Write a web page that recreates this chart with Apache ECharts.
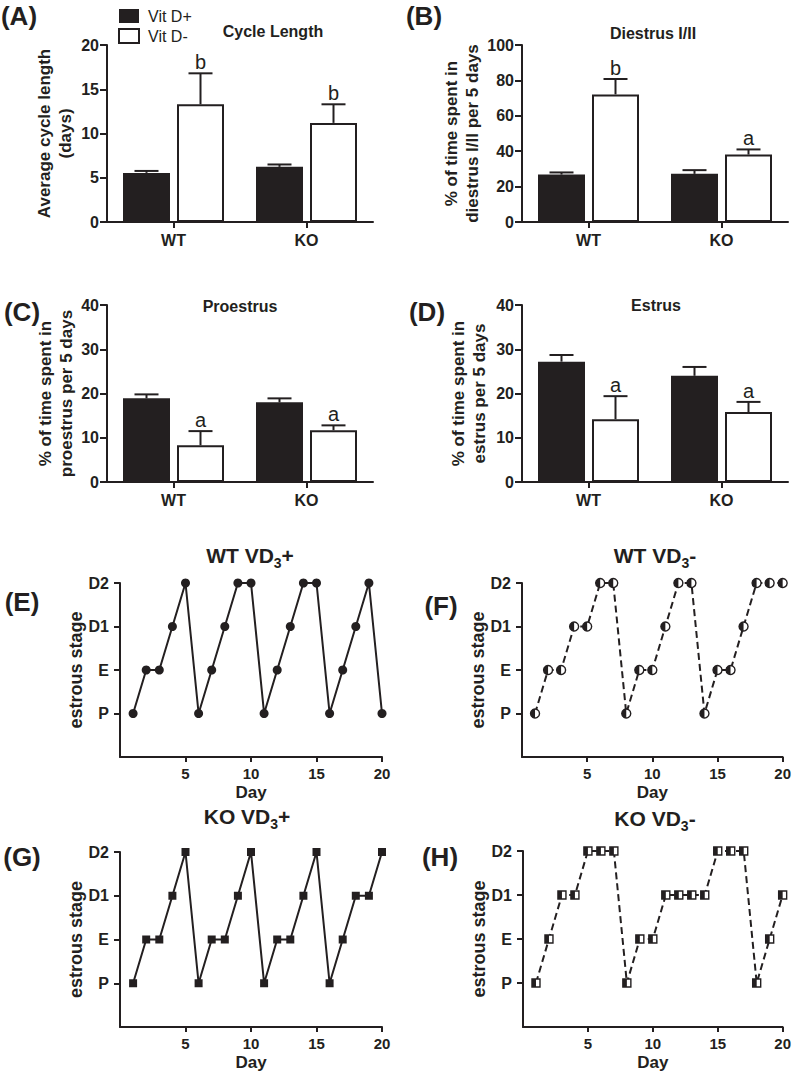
<!DOCTYPE html>
<html>
<head>
<meta charset="utf-8">
<script src="https://cdn.jsdelivr.net/npm/echarts@6/dist/echarts.min.js"></script>
<style>
html,body{margin:0;padding:0;background:#ffffff;}
#chart{width:794px;height:1072px;}
</style>
</head>
<body>
<div id="chart"></div>
<script>
// ---------------- data ----------------
const barGroups = ['WT', 'KO'];
const seriesNames = ['Vit D+', 'Vit D-'];

const cycleVitDPlus = [5.55, 6.23];
const cycleVitDPlusSem = [0.22, 0.27];
const cycleVitDMinus = [13.3, 11.2];
const cycleVitDMinusSem = [3.5, 2.1];
const cycleLetters = ['b', 'b'];

const diestrusVitDPlus = [26.8, 27.2];
const diestrusVitDPlusSem = [1.2, 2.1];
const diestrusVitDMinus = [72.1, 38.1];
const diestrusVitDMinusSem = [8.7, 2.9];
const diestrusLetters = ['b', 'a'];

const proestrusVitDPlus = [18.9, 18.0];
const proestrusVitDPlusSem = [0.9, 0.9];
const proestrusVitDMinus = [8.3, 11.7];
const proestrusVitDMinusSem = [3.2, 1.1];
const proestrusLetters = ['a', 'a'];

const estrusVitDPlus = [27.2, 24.0];
const estrusVitDPlusSem = [1.5, 2.0];
const estrusVitDMinus = [14.2, 15.8];
const estrusVitDMinusSem = [5.2, 2.3];
const estrusLetters = ['a', 'a'];

const days = [1, 2, 3, 4, 5, 6, 7, 8, 9, 10, 11, 12, 13, 14, 15, 16, 17, 18, 19, 20];
const stageLabels = ['', 'P', 'E', 'D1', 'D2'];
const dayTicks = [5, 10, 15, 20];
const stageTicks = [1, 2, 3, 4];
// stage index: 1=P, 2=E, 3=D1, 4=D2
const wtVd3Plus  = [1, 2, 2, 3, 4, 1, 2, 3, 4, 4, 1, 2, 3, 4, 4, 1, 2, 3, 4, 1];
const wtVd3Minus = [1, 2, 2, 3, 3, 4, 4, 1, 2, 2, 3, 4, 4, 1, 2, 2, 3, 4, 4, 4];
const koVd3Plus  = [1, 2, 2, 3, 4, 1, 2, 2, 3, 4, 1, 2, 2, 3, 4, 1, 2, 3, 3, 4];
const koVd3Minus = [1, 2, 3, 3, 4, 4, 4, 1, 2, 2, 3, 3, 3, 3, 4, 4, 4, 1, 2, 3];

// ---------------- styling ----------------
const INK = '#231f20';
const FONT = '"Liberation Sans", Arial, Helvetica, sans-serif';
const BAR_W = 47;
const BAR_GAP_PX = 7;
const CAP = 12;

const chart = echarts.init(document.getElementById('chart'), null, {renderer: 'svg', width: 794, height: 1072});

const grids = [], xAxes = [], yAxes = [], series = [], graphics = [];

function errorRender(offset, letters) {
  return function (params, api) {
    const i = api.value(0), m = api.value(1), s = api.value(2);
    const base = api.coord([i, m]);
    const top = api.coord([i, m + s]);
    const x = base[0] + offset;
    const children = [
      {type: 'line', shape: {x1: x, y1: base[1], x2: x, y2: top[1]}, style: {stroke: INK, lineWidth: 2}},
      {type: 'line', shape: {x1: x - CAP, y1: top[1], x2: x + CAP, y2: top[1]}, style: {stroke: INK, lineWidth: 2}}
    ];
    const letter = letters ? letters[params.dataIndex] : null;
    if (letter) {
      children.push({type: 'text', x: x, y: top[1] - 1,
        style: {text: letter, font: '20px ' + FONT, fill: INK, align: 'center', verticalAlign: 'bottom'}});
    }
    return {type: 'group', children: children};
  };
}

const axisLineStyle = {show: true, lineStyle: {color: INK, width: 2}};
const axisTickStyle = {show: true, length: 6, lineStyle: {color: INK, width: 2}};

const barPanels = [
  {plus: cycleVitDPlus, plusSem: cycleVitDPlusSem, minus: cycleVitDMinus, minusSem: cycleVitDMinusSem, letters: cycleLetters,
   max: 20, interval: 5, name: 'Average cycle length\n(days)', nameGap: 31,
   grid: {left: 107, top: 45, width: 266, height: 177}},
  {plus: diestrusVitDPlus, plusSem: diestrusVitDPlusSem, minus: diestrusVitDMinus, minusSem: diestrusVitDMinusSem, letters: diestrusLetters,
   max: 100, interval: 20, name: '% of time spent in\ndiestrus I/II per 5 days', nameGap: 36,
   grid: {left: 522, top: 45, width: 266, height: 177}},
  {plus: proestrusVitDPlus, plusSem: proestrusVitDPlusSem, minus: proestrusVitDMinus, minusSem: proestrusVitDMinusSem, letters: proestrusLetters,
   max: 40, interval: 10, name: '% of time spent in\nproestrus per 5 days', nameGap: 30,
   grid: {left: 107, top: 305, width: 266, height: 177}},
  {plus: estrusVitDPlus, plusSem: estrusVitDPlusSem, minus: estrusVitDMinus, minusSem: estrusVitDMinusSem, letters: estrusLetters,
   max: 40, interval: 10, name: '% of time spent in\nestrus per 5 days', nameGap: 32,
   grid: {left: 522, top: 305, width: 266, height: 177}}
];

barPanels.forEach(function (p) {
  const k = grids.length;
  grids.push(p.grid);
  xAxes.push({
    gridIndex: k, type: 'category', data: barGroups,
    axisLine: axisLineStyle, axisTick: Object.assign({alignWithLabel: true}, axisTickStyle),
    axisLabel: {color: INK, fontWeight: 'bold', fontSize: 16, fontFamily: FONT, margin: 10},
    splitLine: {show: false}
  });
  yAxes.push({
    gridIndex: k, type: 'value', min: 0, max: p.max, interval: p.interval,
    axisLine: axisLineStyle, axisTick: Object.assign({}, axisTickStyle, {length: 7}),
    axisLabel: {color: INK, fontWeight: 'bold', fontSize: 16, fontFamily: FONT, margin: 8},
    splitLine: {show: false},
    name: p.name, nameLocation: 'middle', nameRotate: 90, nameGap: p.nameGap,
    nameTextStyle: {color: INK, fontWeight: 'bold', fontSize: 17, fontFamily: FONT, lineHeight: 21}
  });
  series.push({
    type: 'bar', name: seriesNames[0], xAxisIndex: k, yAxisIndex: k, data: p.plus,
    barWidth: BAR_W, barGap: (BAR_GAP_PX / BAR_W * 100) + '%',
    itemStyle: {color: INK, borderColor: INK, borderWidth: 0}, silent: true
  });
  series.push({
    type: 'bar', name: seriesNames[1], xAxisIndex: k, yAxisIndex: k, data: p.minus,
    barWidth: BAR_W, barGap: (BAR_GAP_PX / BAR_W * 100) + '%',
    itemStyle: {color: '#ffffff', borderColor: INK, borderWidth: 2}, silent: true
  });
  const off = (BAR_W + BAR_GAP_PX) / 2;
  series.push({
    type: 'custom', name: 'err+', xAxisIndex: k, yAxisIndex: k, silent: true,
    data: p.plus.map(function (v, i) { return [i, v, p.plusSem[i]]; }),
    renderItem: errorRender(-off, null), z: 3
  });
  series.push({
    type: 'custom', name: 'err-', xAxisIndex: k, yAxisIndex: k, silent: true,
    data: p.minus.map(function (v, i) { return [i, v, p.minusSem[i]]; }),
    renderItem: errorRender(off, p.letters), z: 3
  });
});

// left-half fills; a tiny anchor at the far right keeps the full-size bounding box
const HALF_CIRCLE = 'path://M10,0 A10,10 0 0 0 10,20 Z M20,10 L19.99,10.01 L19.99,9.99 Z';
const HALF_RECT = 'path://M0,0 L10,0 L10,20 L0,20 Z M20,10 L19.99,10.01 L19.99,9.99 Z';

const linePanels = [
  {values: wtVd3Plus, marker: 'circle', size: 9, dashed: false, half: null,
   grid: {left: 120, top: 583, width: 262, height: 174}},
  {values: wtVd3Minus, marker: 'circle', size: 9, dashed: true, half: HALF_CIRCLE,
   grid: {left: 522, top: 583, width: 265, height: 174}},
  {values: koVd3Plus, marker: 'rect', size: 8, dashed: false, half: null,
   grid: {left: 120, top: 852, width: 262, height: 175}},
  {values: koVd3Minus, marker: 'rect', size: 8, dashed: true, half: HALF_RECT,
   grid: {left: 523, top: 851, width: 264, height: 176}}
];

linePanels.forEach(function (p) {
  const k = grids.length;
  grids.push(p.grid);
  xAxes.push({
    gridIndex: k, type: 'value', min: 0, max: 20, interval: 5,
    axisLine: axisLineStyle,
    axisTick: Object.assign({}, axisTickStyle, {length: 5, customValues: dayTicks}),
    axisLabel: {color: INK, fontWeight: 'bold', fontSize: 15, fontFamily: FONT, margin: 9, customValues: dayTicks},
    splitLine: {show: false},
    name: 'Day', nameLocation: 'middle', nameGap: 27,
    nameTextStyle: {color: INK, fontWeight: 'bold', fontSize: 17, fontFamily: FONT}
  });
  yAxes.push({
    gridIndex: k, type: 'value', min: 0, max: 4, interval: 1,
    axisLine: axisLineStyle,
    axisTick: Object.assign({}, axisTickStyle, {length: 6, customValues: stageTicks}),
    axisLabel: {color: INK, fontWeight: 'bold', fontSize: 16, fontFamily: FONT, margin: 11, customValues: stageTicks,
      formatter: function (v) { return stageLabels[v] || ''; }},
    splitLine: {show: false},
    name: 'estrous stage', nameLocation: 'middle', nameRotate: 90, nameGap: 33,
    nameTextStyle: {color: INK, fontWeight: 'bold', fontSize: 18, fontFamily: FONT}
  });
  const data = days.map(function (d, i) { return [d, p.values[i]]; });
  series.push({
    type: 'line', xAxisIndex: k, yAxisIndex: k, data: data, silent: true,
    symbol: p.marker, symbolSize: p.size, showSymbol: true, showAllSymbol: true,
    lineStyle: {color: INK, width: 2, type: p.dashed ? [7, 4] : 'solid'},
    itemStyle: p.half ? {color: '#ffffff', borderColor: INK, borderWidth: 1.4} : {color: INK, borderWidth: 0},
    emphasis: {disabled: true}, z: 3
  });
  if (p.half) {
    series.push({
      type: 'scatter', xAxisIndex: k, yAxisIndex: k, data: data, silent: true,
      symbol: p.half, symbolSize: p.size,
      itemStyle: {color: INK, borderWidth: 0, opacity: 1},
      emphasis: {disabled: true}, z: 4
    });
  }
});

// ---------------- texts (titles, panel letters) ----------------
function addText(text, x, y, font, extra) {
  graphics.push({type: 'text', x: x, y: y, silent: true,
    style: Object.assign({text: text, font: font, fill: INK, align: 'center', verticalAlign: 'middle'}, extra || {})});
}
const LETTER_FONT = 'bold 26px ' + FONT;
addText('(A)', 19, 16, LETTER_FONT);
addText('(B)', 424, 16, LETTER_FONT);
addText('(C)', 22, 312, LETTER_FONT);
addText('(D)', 427, 312, LETTER_FONT);
addText('(E)', 22, 602, LETTER_FONT);
addText('(F)', 441, 606, LETTER_FONT);
addText('(G)', 22, 857, LETTER_FONT);
addText('(H)', 440, 857, LETTER_FONT);

const TITLE_FONT = 'bold 16px ' + FONT;
addText('Cycle Length', 273, 31, TITLE_FONT);
addText('Diestrus I/II', 653, 33, TITLE_FONT);
addText('Proestrus', 240, 306, TITLE_FONT);
addText('Estrus', 656, 305, TITLE_FONT);

function addSubTitle(pre, post, x, y) {
  graphics.push({type: 'text', x: x, y: y, silent: true,
    style: {
      text: '{m|' + pre + '}{s|3}{m|' + post + '}',
      align: 'center', verticalAlign: 'middle',
      rich: {
        m: {font: 'bold 21px ' + FONT, fill: INK, lineHeight: 30, verticalAlign: 'middle'},
        s: {font: 'bold 14px ' + FONT, fill: INK, lineHeight: 16, verticalAlign: 'bottom'}
      }
    }});
}
addSubTitle('WT VD', '+', 250, 555);
addSubTitle('WT VD', '-', 655, 555);
addSubTitle('KO VD', '+', 247, 816);
addSubTitle('KO VD', '-', 655, 818);

chart.setOption({
  animation: false,
  backgroundColor: '#ffffff',
  textStyle: {fontFamily: FONT},
  legend: {
    data: seriesNames, orient: 'vertical', left: 113, top: 3,
    itemWidth: 20, itemHeight: 14, itemGap: 4, icon: 'rect',
    selectedMode: false,
    textStyle: {color: INK, fontSize: 16, fontFamily: FONT, padding: [0, 0, 0, 4]}
  },
  grid: grids,
  xAxis: xAxes,
  yAxis: yAxes,
  series: series,
  graphic: graphics
});
</script>
</body>
</html>
